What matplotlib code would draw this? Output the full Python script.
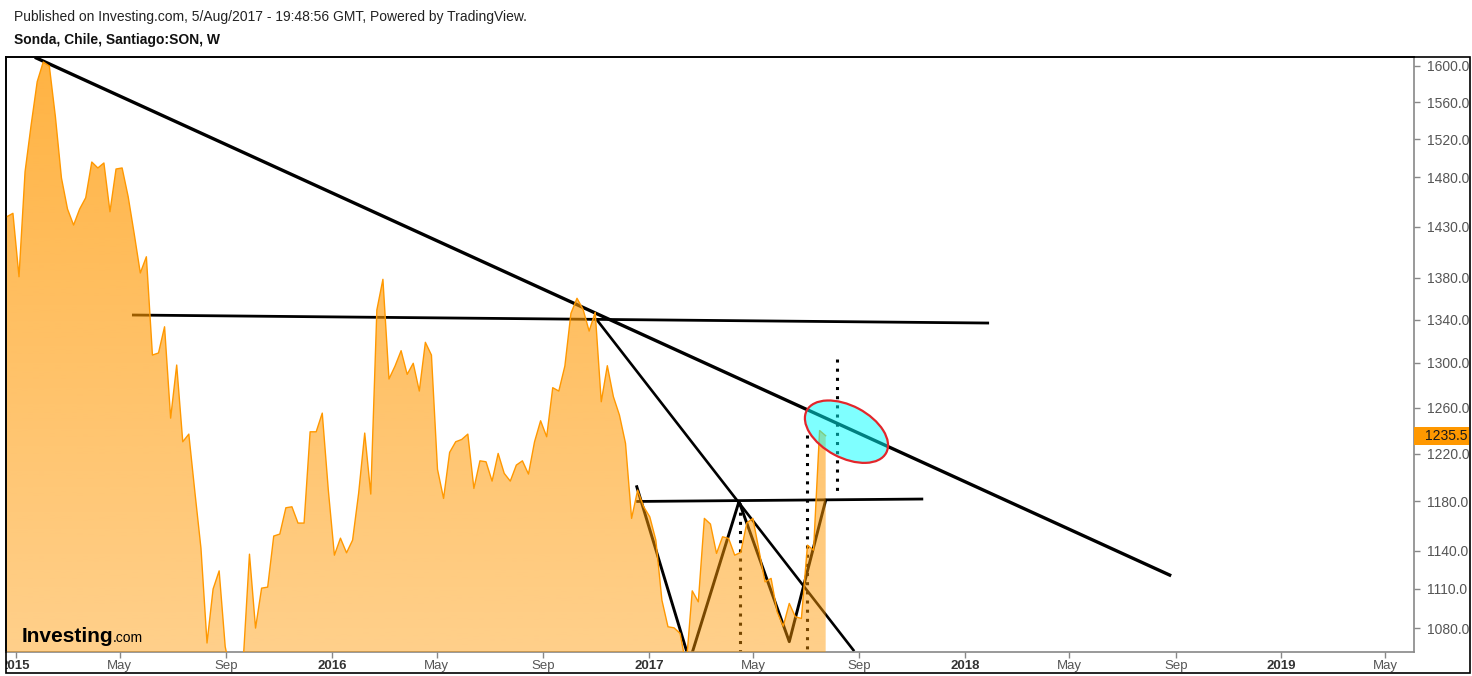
import numpy as np
import pandas as pd
import matplotlib
matplotlib.use('Agg')
import matplotlib.pyplot as plt
import matplotlib.dates as mdates
from matplotlib.patches import Polygon, Ellipse, Rectangle
from matplotlib import transforms
from matplotlib.ticker import NullLocator, NullFormatter

plt.rcParams['font.family'] = ['Liberation Sans', 'DejaVu Sans']

# weekly closes, first bar = week of 22/Dec/2014
first_week = '2014-12-22'
closes = [1440.0, 1443.4, 1380.8, 1486.0, 1535.3, 1582.5, 1604.5, 1600.0, 1544.3, 1479.5,
          1447.7, 1431.6, 1447.7, 1459.2, 1496.1, 1489.9, 1495.1, 1445.0, 1488.8, 1489.9,
          1460.3, 1422.7, 1384.4, 1400.2, 1307.2, 1309.1, 1333.3, 1250.8, 1298.1, 1230.3,
          1236.9, 1187.7, 1142.1, 1068.8, 1109.9, 1124.1, 1066.0, 1045.0, 1040.0, 1058.0,
          1137.3, 1080.0, 1110.6, 1111.4, 1151.8, 1153.4, 1174.8, 1175.6, 1162.3, 1162.3,
          1238.9, 1238.9, 1255.2, 1189.4, 1136.5, 1150.1, 1138.4, 1148.5, 1186.9, 1237.8,
          1186.1, 1349.0, 1378.3, 1285.5, 1297.2, 1311.2, 1289.7, 1299.7, 1274.7, 1318.9,
          1307.2, 1206.8, 1182.5, 1221.2, 1230.3, 1232.3, 1236.9, 1190.8, 1214.0, 1213.2,
          1196.9, 1220.3, 1203.4, 1196.9, 1210.4, 1214.0, 1202.8, 1230.3, 1248.5, 1234.6,
          1277.7, 1274.7, 1297.2, 1345.9, 1360.1, 1349.7, 1329.3, 1346.8, 1265.2, 1297.5,
          1269.7, 1253.4, 1228.9, 1166.1, 1189.4, 1175.6, 1167.4, 1148.5, 1101.3, 1081.0,
          1080.2, 1076.0, 1052.0, 1108.5, 1100.0, 1166.1, 1161.5, 1137.9, 1151.2, 1149.9,
          1136.5, 1138.7, 1162.5, 1166.1, 1140.5, 1115.5, 1118.2, 1092.4, 1081.5, 1098.8,
          1088.6, 1087.3, 1144.5, 1140.5, 1240.0, 1235.5]
last_price = 1235.5

# drawn trend lines (date, price)
down_dates = ['2015-01-25', '2018-08-25']
down_vals = [1609, 1120.8]
resist_dates = ['2015-05-17', '2018-01-27']
resist_vals = [1344.3, 1336.8]
steep_dates = ['2016-11-02', '2017-08-25']
steep_vals = [1339.7, 1063.5]
neck_dates = ['2016-12-19', '2017-11-12']
neck_vals = [1180, 1182]
zig_dates = ['2016-12-18', '2017-02-17', '2017-04-15', '2017-06-12', '2017-07-24']
zig_vals = [1192.2, 1055.4, 1180, 1069.8, 1181]
dot_dates = ['2017-04-16', '2017-07-02', '2017-08-06']
dot_tops = [1178.7, 1236, 1304]
dot_bottoms = [1063, 1064, 1185]
circle_date = '2017-08-17'
circle_val = 1239

ytick_vals = [1080, 1110, 1140, 1180, 1220, 1260, 1300, 1340, 1380, 1430, 1480, 1520, 1560, 1600]
xtick_dates = ['2015-01-01', '2015-05-01', '2015-09-01', '2016-01-01', '2016-05-01', '2016-09-01',
               '2017-01-01', '2017-05-01', '2017-09-01', '2018-01-01', '2018-05-01', '2018-09-01',
               '2019-01-01', '2019-05-01']
xtick_labels = ['2015', 'May', 'Sep', '2016', 'May', 'Sep', '2017', 'May', 'Sep',
                '2018', 'May', 'Sep', '2019', 'May']

W, H = 1472, 676
fig = plt.figure(figsize=(W / 100, H / 100), dpi=100)
ax = fig.add_axes([6 / W, 24 / H, 1408 / W, 595 / H])
ax.set_yscale('log')

dates = pd.date_range(first_week, periods=len(closes), freq='7D')
xnum = mdates.date2num(dates)

# trend lines sit under the translucent area, like in the original
ax.plot(pd.to_datetime(down_dates), down_vals, color='black', lw=2.4, zorder=2)
ax.plot(pd.to_datetime(resist_dates), resist_vals, color='black', lw=2.0, zorder=2)
ax.plot(pd.to_datetime(steep_dates), steep_vals, color='black', lw=1.9, zorder=2)
ax.plot(pd.to_datetime(neck_dates), neck_vals, color='black', lw=2.0, zorder=2)
ax.plot(pd.to_datetime(zig_dates), zig_vals, color='black', lw=2.1, zorder=2)
for d, top, bot in zip(dot_dates, dot_tops, dot_bottoms):
    dd = pd.to_datetime([d, d])
    ax.plot(dd, [top, bot], color='black', lw=2.2, linestyle=(0, (1, 2)),
            dash_capstyle='butt', zorder=2)

# gradient area
verts = list(zip(xnum, closes)) + [(xnum[-1], 900), (xnum[0], 900)]
poly = Polygon(verts, closed=True, transform=ax.transData, facecolor='none', edgecolor='none')
ax.add_patch(poly)
grad = np.zeros((256, 1, 4))
grad[:, 0, 0] = 1.0
grad[:, 0, 1] = 152 / 255
grad[:, 0, 2] = 0.0
grad[:, 0, 3] = np.linspace(0.74, 0.46, 256)
im = ax.imshow(grad, extent=[0, 1, 0, 1], transform=ax.transAxes, aspect='auto',
               origin='upper', interpolation='bilinear', zorder=3)
im.set_clip_path(poly)
ax.plot(dates, closes, color='#ff9800', lw=1.0, zorder=4)

# highlighted crossing
ell_tr = fig.dpi_scale_trans + transforms.ScaledTranslation(
    mdates.date2num(pd.Timestamp(circle_date)), circle_val, ax.transData)
ax.add_patch(Ellipse((0, 0), 0.90, 0.52, angle=-28, transform=ell_tr,
                     facecolor=(0, 1, 1, 0.5), edgecolor='#e3262b', lw=1.6, zorder=5))

ymin, ymax = 1062.1, 1610.1
ax.set_xlim(mdates.date2num(pd.Timestamp('2014-12-21')), mdates.date2num(pd.Timestamp('2019-06-03')))
ax.set_ylim(ymin, ymax)

# axes
ax.yaxis.tick_right()
ax.set_yticks(ytick_vals)
ax.set_yticklabels([f'{v:.1f}' for v in ytick_vals])
ax.yaxis.set_minor_locator(NullLocator())
ax.yaxis.set_minor_formatter(NullFormatter())
ax.set_xticks(mdates.date2num(pd.to_datetime(xtick_dates)))
ax.set_xticklabels(xtick_labels)
ax.tick_params(axis='both', direction='out', length=4, width=1, color='#888888',
               labelcolor='#555555')
ax.tick_params(axis='x', pad=2, labelsize=9.5)
ax.tick_params(axis='y', pad=5, labelsize=10)
for lab in ax.get_xticklabels():
    if lab.get_text().isdigit():
        lab.set_fontweight('bold')
        lab.set_color('#333333')

clipbox = transforms.TransformedBbox(transforms.Bbox.from_extents(6 / W, 0, 1469 / W, 1), fig.transFigure)
for lab in ax.get_xticklabels() + ax.get_yticklabels():
    lab.set_clip_box(clipbox)
    lab.set_clip_on(True)

for side in ['left', 'top']:
    ax.spines[side].set_color('black')
    ax.spines[side].set_linewidth(1.2)
for side in ['right', 'bottom']:
    ax.spines[side].set_color('#888888')
    ax.spines[side].set_linewidth(1.2)

# last price marker on the scale
ytr = ax.get_yaxis_transform()
step = (ymax / ymin) ** (9 / 595)
ax.add_patch(Rectangle((1.0, last_price / step), 55 / 1408, last_price * step - last_price / step,
                       transform=ytr, facecolor='#ff9800', edgecolor='none', clip_on=False, zorder=6))
ax.text(1.0 + 11 / 1408, last_price, f'{last_price:.1f}', transform=ytr, va='center', ha='left',
        fontsize=10, color='#1a1a1a', clip_on=True, zorder=7).set_clip_box(clipbox)

# logo
ax.text(16 / 1408, 10 / 595, 'Investing', transform=ax.transAxes, fontsize=15,
        fontweight='bold', color='black', va='baseline', zorder=7)
ax.text(107 / 1408, 10 / 595, '.com', transform=ax.transAxes, fontsize=10,
        color='black', va='baseline', zorder=7)

# outer frame
fig.add_artist(Rectangle((5.5 / W, 3 / H), 1464 / W, 616 / H, transform=fig.transFigure,
                         fill=False, edgecolor='black', lw=1.2))

fig.text(14 / W, 1 - 17 / H, 'Published on Investing.com, 5/Aug/2017 - 19:48:56 GMT, Powered by TradingView.',
         fontsize=10, color='#222222', va='center')
fig.text(14 / W, 1 - 40 / H, 'Sonda, Chile, Santiago:SON, W', fontsize=10, fontweight='bold',
         color='#111111', va='center')

fig.savefig('out.png', dpi=100)
